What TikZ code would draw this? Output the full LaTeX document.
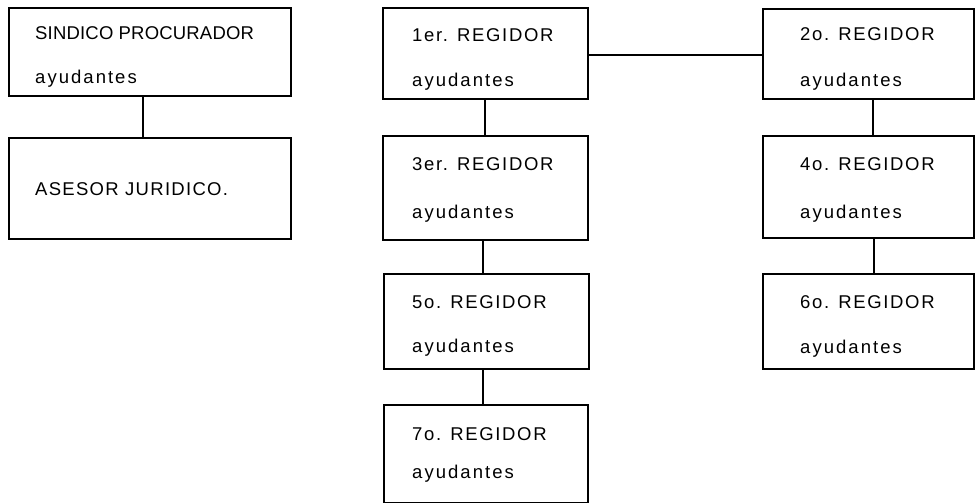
\documentclass[tikz,border=0pt]{standalone}
\usepackage{fontspec}
\setmainfont{Liberation Sans}[LetterSpace=9]
\newcommand{\ayud}{{\addfontfeature{LetterSpace=11}ayudantes}}
\begin{document}
\begin{tikzpicture}[x=1pt,y=-1pt,
  box/.style={draw=black,line width=1.8pt,rectangle,anchor=north west,inner sep=0pt},
  txt/.style={anchor=base west,inner sep=0pt,font=\fontsize{18.5}{21}\selectfont,text=black},
  link/.style={draw=black,line width=1.1pt}]
\useasboundingbox (0,0) rectangle (975,503);
% left column
\node[box,minimum width=282pt,minimum height=88pt] (sp) at (8,7) {};
\node[txt] (spa) at (35,40) {\addfontfeature{LetterSpace=1}SINDICO PROCURADOR};
\node[txt] (spb) at (35,84) {\ayud};
\node[box,minimum width=282pt,minimum height=101pt] (aj) at (8,137) {};
\node[txt] (aja) at (35,195) {\addfontfeature{LetterSpace=7}ASESOR JURIDICO.};
% middle column
\node[box,minimum width=205pt,minimum height=91pt] (r1) at (382,7) {};
\node[txt] (r1a) at (412,42) {1er. REGIDOR};
\node[txt] (r1b) at (412,86) {\ayud};
\node[box,minimum width=205pt,minimum height=104pt] (r3) at (382,135) {};
\node[txt] (r3a) at (412,170) {3er. REGIDOR};
\node[txt] (r3b) at (412,218) {\ayud};
\node[box,minimum width=205pt,minimum height=95pt] (r5) at (383,273) {};
\node[txt] (r5a) at (412,308) {5o. REGIDOR};
\node[txt] (r5b) at (412,352) {\ayud};
\node[box,minimum width=204pt,minimum height=98pt] (r7) at (383,404) {};
\node[txt] (r7a) at (412,440) {7o. REGIDOR};
\node[txt] (r7b) at (412,478) {\ayud};
% right column
\node[box,minimum width=211pt,minimum height=90pt] (r2) at (762,8) {};
\node[txt] (r2a) at (800,41) {2o. REGIDOR};
\node[txt] (r2b) at (800,86) {\ayud};
\node[box,minimum width=211pt,minimum height=102pt] (r4) at (762,135) {};
\node[txt] (r4a) at (800,170) {4o. REGIDOR};
\node[txt] (r4b) at (800,218) {\ayud};
\node[box,minimum width=211pt,minimum height=95pt] (r6) at (762,273) {};
\node[txt] (r6a) at (800,308) {6o. REGIDOR};
\node[txt] (r6b) at (800,353) {\ayud};
% connectors
\draw[link] (sp.south -| 143,0) -- (aj.north -| 143,0);
\draw[link] (r1.east |- 0,55) -- (r2.west |- 0,55);
\draw[link] (r1.south -| 485,0) -- (r3.north -| 485,0);
\draw[link] (r3.south -| 483,0) -- (r5.north -| 483,0);
\draw[link] (r5.south -| 483,0) -- (r7.north -| 483,0);
\draw[link] (r2.south -| 873,0) -- (r4.north -| 873,0);
\draw[link] (r4.south -| 874,0) -- (r6.north -| 874,0);
\end{tikzpicture}
\end{document}
